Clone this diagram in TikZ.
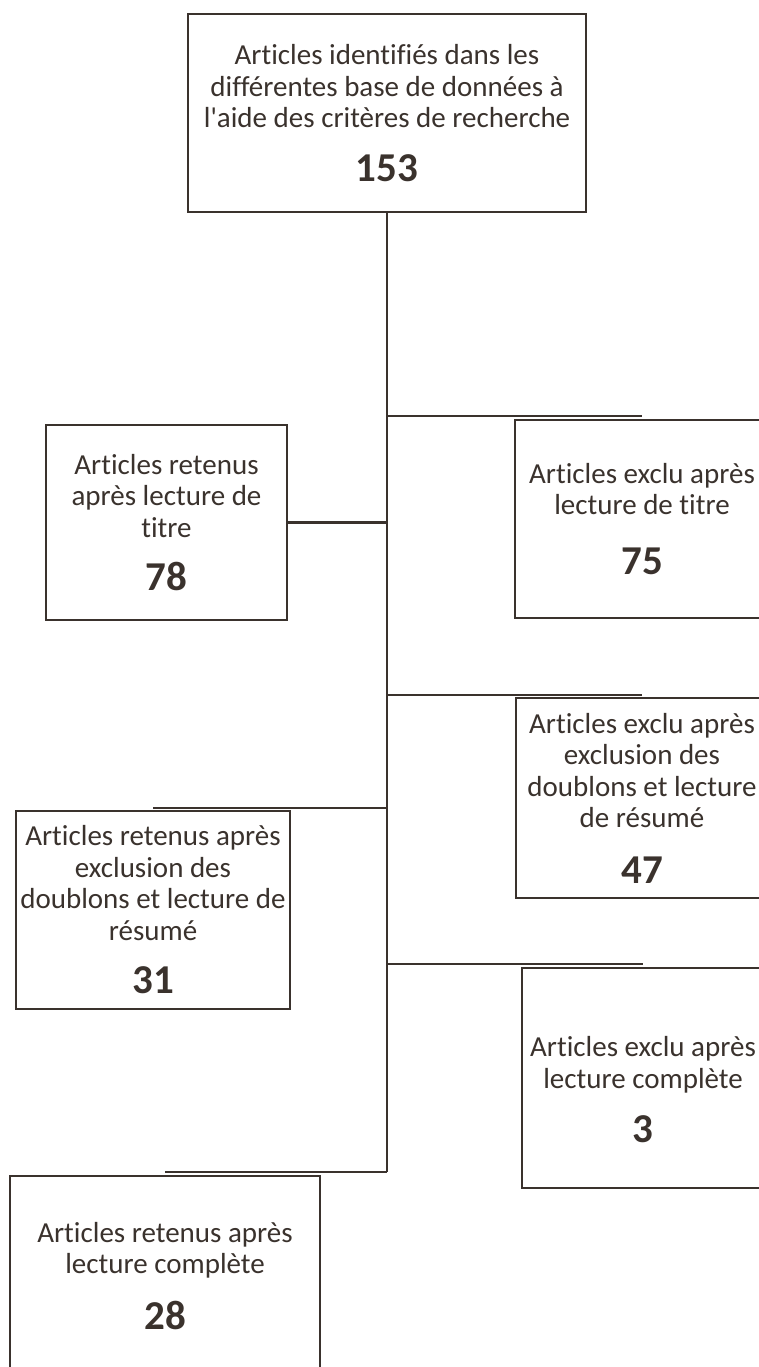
\documentclass[tikz,border=0pt]{standalone}
\usepackage{fontspec}
\setmainfont{Carlito}[Ligatures=NoCommon]
\usepackage{tikz}
\definecolor{ink}{HTML}{3A322D}
\newcommand{\nbr}[2][22pt]{\\[#1]{\fontsize{41}{41}\selectfont\bfseries #2}}

\begin{document}
\begin{tikzpicture}[x=1pt,y=-1pt,
  box/.style={draw=ink,line width=2pt,text=ink,align=center,inner sep=0pt,
    font=\fontsize{29}{31.5}\selectfont},
  link/.style={draw=ink,line width=2.8pt}]
  \useasboundingbox (0,0) rectangle (759,1367);
  \clip (0,0) rectangle (759,1367);
  % boxes
  \node[box,minimum width=398pt,minimum height=198pt] (ident) at (387,113)
    {Articles identifiés dans les\\différentes base de données à\\l\textquotesingle aide des critères de recherche\nbr{153}};
  \node[box,minimum width=241pt,minimum height=195pt] (keep1) at (166.5,522.5)
    {Articles retenus\\après lecture de\\titre\nbr{78}};
  \node[box,minimum width=254pt,minimum height=198pt] (excl1) at (642,519)
    {Articles exclu après\\lecture de titre\nbr[28pt]{75}};
  \node[box,minimum width=252pt,minimum height=200pt] (excl2) at (642,798)
    {Articles exclu après\\exclusion des\\doublons et lecture\\de résumé\nbr[24pt]{47}};
  \node[box,minimum width=274pt,minimum height=198pt] (keep2) at (153,910)
    {Articles retenus après\\exclusion des\\doublons et lecture de\\résumé\nbr{31}};
  \node[box,minimum width=242pt,minimum height=220pt] (excl3) at (643,1078)
    {\rule{0pt}{44pt}Articles exclu après\\lecture complète\nbr{3}};
  \node[box,minimum width=310pt,minimum height=200pt] (keep3) at (165,1276)
    {Articles retenus après\\lecture complète\nbr{28}};
  % connectors
  \coordinate (e1) at ([yshift=3pt]excl1.north);
  \coordinate (e2) at ([yshift=2pt]excl2.north);
  \coordinate (e3) at ([yshift=3pt]excl3.north);
  \coordinate (k2) at ([yshift=2pt]keep2.north);
  \coordinate (k3) at ([yshift=3pt]keep3.north);
  \draw[link] (ident.south) -- (ident.south |- k3);
  \draw[link] (ident.south |- e1) -- (e1);
  \draw[link] (ident.south |- e2) -- (e2);
  \draw[link] (ident.south |- e3) -- (e3);
  \draw[link] (keep1.east) -- (keep1.east -| ident.south);
  \draw[link] (ident.south |- k2) -- (k2);
  \draw[link] (ident.south |- k3) -- (k3);
\end{tikzpicture}
\end{document}
